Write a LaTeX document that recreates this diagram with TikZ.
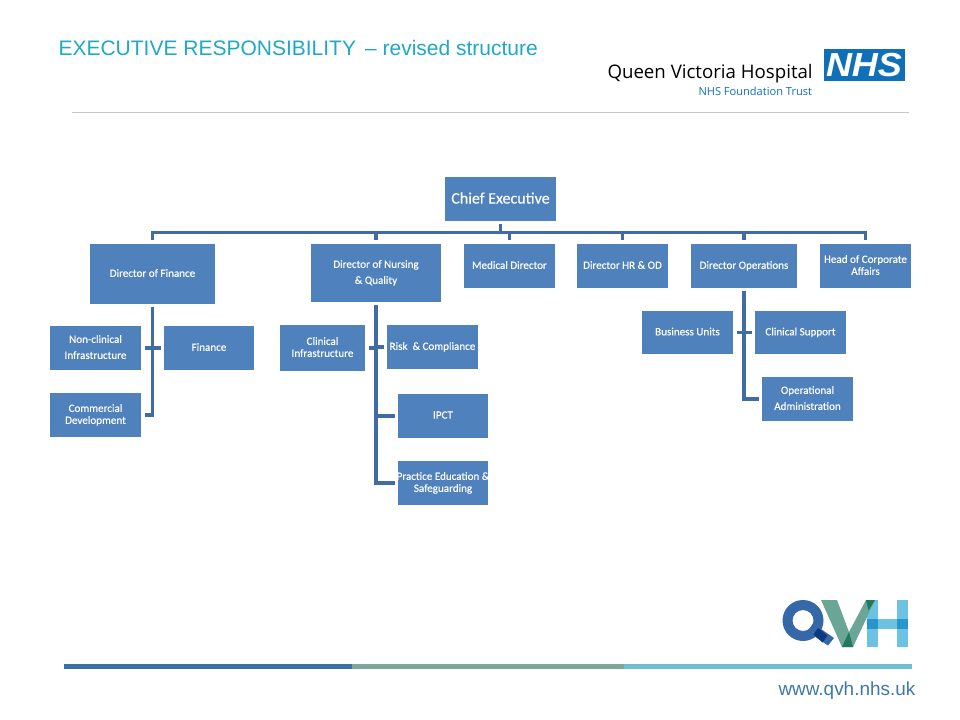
\documentclass[tikz,border=0pt]{standalone}
\usepackage{fontspec}
\setmainfont[FakeBold=0.25]{Carlito}
\newfontfamily\arialfont{Liberation Sans}
\newfontfamily\logofont{Open Sans}
\definecolor{boxblue}{HTML}{4F81BD}
\definecolor{linkblue}{HTML}{3F6CA3}
\definecolor{titlecyan}{HTML}{1FA8C6}
\definecolor{urlblue}{HTML}{3D78A8}
\definecolor{nhsblue}{HTML}{0F6FB7}
\definecolor{barblue}{HTML}{3A6FA8}
\definecolor{bargreen}{HTML}{7FA69B}
\definecolor{barcyan}{HTML}{72BDD6}
\definecolor{qblue}{HTML}{3568A8}
\definecolor{qdark}{HTML}{0C3A80}
\definecolor{vgreen}{HTML}{6BA595}
\definecolor{vdark}{HTML}{1F7A5E}
\definecolor{hlight}{HTML}{6CC2E2}
\definecolor{hdark}{HTML}{2895CC}
\tikzset{every picture/.style={line width=0.75pt}}
\tikzset{
  box/.style={rectangle,fill=boxblue,text=white,align=center,inner sep=0pt,text depth=1.5pt,
    font=\fontsize{8.3}{9}\selectfont},
  boxa/.style={box,minimum width=68.25pt,minimum height=33pt},
  link/.style={draw=linkblue,line width=2.4pt,shorten <=2.25pt,shorten >=2.25pt},
  stub/.style={link,shorten <=0pt},
  plaintext/.style={inner sep=0pt,anchor=base west}
}

\begin{document}
\begin{tikzpicture}[x=0.75pt,y=0.75pt,yscale=-1,xscale=1]
\useasboundingbox (0,0) rectangle (960,720);

% Header
\draw (58,55.5) node [plaintext,text=titlecyan,font=\arialfont\fontsize{15.75}{18}\selectfont] (title) {EXECUTIVE RESPONSIBILITY \kern2.4pt\textendash{} revised structure};
\draw (607,79) node [plaintext,font=\logofont\fontsize{14}{15}\selectfont] (hospital) {Queen Victoria Hospital};
\draw (698,95.5) node [plaintext,text=nhsblue,font=\logofont\fontsize{8.3}{9}\selectfont] (trust) {NHS Foundation Trust};
\draw (823,49) node [rectangle,fill=nhsblue,inner sep=0pt,anchor=north west,minimum width=60.75pt,minimum height=24pt,text=white,font=\arialfont\bfseries\itshape\fontsize{25}{25}\selectfont] (nhs) {\scalebox{1.08}[1]{NHS}};
\draw [color={rgb, 255:red, 200; green, 200; blue, 200 }] (72,112.5) -- (909,112.5) ;

% Boxes
\draw (500.5,199) node [box,minimum width=83.25pt,minimum height=33pt,font=\fontsize{12}{13}\selectfont] (chief) {Chief Executive};
\draw (152.5,274) node [box,minimum width=93.75pt,minimum height=45pt] (dof) {Director of Finance};
\draw (376,273) node [box,minimum width=97.5pt,minimum height=43.5pt] (don) {Director of Nursing\\[3pt]\& Quality};
\draw (509.5,266) node [boxa] (med) {Medical Director};
\draw (622.5,266) node [boxa] (hr) {Director HR \& OD};
\draw (744,266) node [box,minimum width=79.5pt,minimum height=33pt] (ops) {Director Operations};
\draw (865.5,266) node [boxa] (head) {Head of Corporate\\Affairs};

\draw (95.5,348) node [boxa] (nonclin) {Non-clinical\\[3pt]Infrastructure};
\draw (209,348) node [boxa,minimum width=67.5pt] (fin) {Finance};
\draw (95.5,415) node [boxa] (comm) {Commercial\\Development};

\draw (322.5,348) node [box,minimum width=63.75pt,minimum height=34.5pt] (clinf) {Clinical\\Infrastructure};
\draw (432.5,347) node [boxa] (risk) {Risk\ \ \& Compliance};
\draw (443,416) node [boxa,minimum width=67.5pt] (ipct) {IPCT};
\draw (443,483) node [boxa,minimum width=67.5pt] (prac) {\makebox[60pt]{Practice Education \&}\\Safeguarding};

\draw (687.5,332.5) node [boxa,minimum height=32.25pt] (bus) {Business Units};
\draw (800.5,332.5) node [boxa,minimum height=32.25pt] (clsup) {Clinical Support};
\draw (807.5,399) node [boxa] (opadm) {Operational\\[3pt]Administration};

% Links from the chief executive
\coordinate (rail) at (500,232.5);
\draw [link] (chief.south) -- (chief.south |- rail) -| (dof.north) ;
\draw [link] (chief.south) -- (chief.south |- rail) -| (don.north) ;
\draw [link] (chief.south) -- (chief.south |- rail) -| (med.north) ;
\draw [link] (chief.south) -- (chief.south |- rail) -| (hr.north) ;
\draw [link] (chief.south) -- (chief.south |- rail) -| (ops.north) ;
\draw [link] (chief.south) -- (chief.south |- rail) -| (head.north) ;

% Links under finance
\draw [link] (dof.south) |- (comm.east) ;
\draw [stub] (dof.south |- nonclin.east) -- (nonclin.east) ;
\draw [stub] (dof.south |- fin.west) -- (fin.west) ;

% Links under nursing
\draw [link] (don.south) |- (prac.west) ;
\draw [stub] (don.south |- clinf.east) -- (clinf.east) ;
\draw [stub] (don.south |- risk.west) -- (risk.west) ;
\draw [stub] (don.south |- ipct.west) -- (ipct.west) ;

% Links under operations
\draw [link] (ops.south) |- (opadm.west) ;
\draw [stub] (ops.south |- bus.east) -- (bus.east) ;
\draw [stub] (ops.south |- clsup.west) -- (clsup.west) ;

% QVH mark
\fill [hlight] (867,600) rectangle (877.5,647) ;
\fill [hlight] (897,600) rectangle (908,647) ;
\fill [hlight] (877.5,618.5) rectangle (897,628.5) ;
\fill [hdark] (867,618.5) rectangle (877.5,628.5) ;
\fill [hdark] (897,618.5) rectangle (908,628.5) ;
\fill [vgreen] (821,600) -- (837,600) -- (849,632) -- (866,600) -- (875,600) -- (853,647) -- (842,647) -- cycle ;
\fill [vdark] (849,632) -- (853,647) -- (842,647) -- cycle ;
\fill [vdark] (866,600) -- (875,600) -- (868.5,610.5) -- cycle ;
\fill [qblue, even odd rule] (803,620.5) circle [radius=20.5] (803,620.5) circle [radius=10.5] ;
\fill [qblue] (813,623.5) -- (834,638) -- (828,645.5) -- (807.5,631.5) -- cycle ;
\fill [qdark] (818,628) -- (827.5,635.5) -- (822.5,642.5) -- (813.5,634.5) -- cycle ;

% Footer
\fill [barblue] (64,664) rectangle (352,668.5) ;
\fill [bargreen] (352,664) rectangle (624,668.5) ;
\fill [barcyan] (624,664) rectangle (912,668.5) ;
\draw (778,695) node [plaintext,text=urlblue,font=\arialfont\fontsize{14.2}{16}\selectfont] (url) {www.qvh.nhs.uk};

\end{tikzpicture}
\end{document}
